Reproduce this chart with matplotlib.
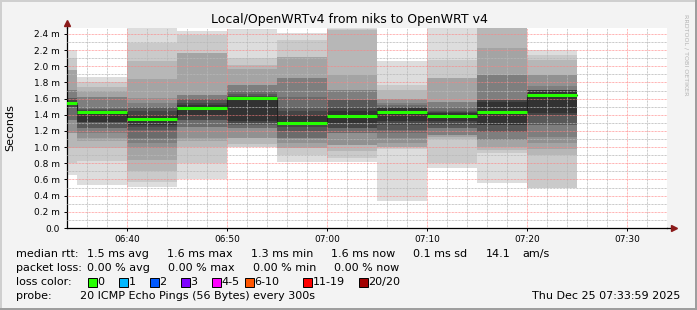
import matplotlib
matplotlib.use('Agg')
import matplotlib.pyplot as plt
from matplotlib.patches import Rectangle

W, H = 697, 310

# 5 minute bins (start time), sorted 20 pings per bin in ms
bin_start = ['06:30', '06:35', '06:40', '06:45', '06:50', '06:55',
             '07:00', '07:05', '07:10', '07:15', '07:20']
p0630 = [0.656, 0.80, 0.985, 1.17, 1.17, 1.34, 1.34, 1.50, 1.50, 1.53, 1.56, 1.58, 1.605, 1.605, 1.71, 1.71, 1.955, 1.955, 2.10, 2.20]
p0635 = [0.53, 0.83, 0.985, 1.08, 1.11, 1.17, 1.234, 1.234, 1.31, 1.315, 1.45, 1.46, 1.47, 1.50, 1.625, 1.625, 1.69, 1.75, 1.81, 1.873]
p0640 = [0.51, 0.57, 0.70, 0.84, 0.985, 1.05, 1.11, 1.21, 1.25, 1.28, 1.40, 1.45, 1.50, 1.50, 1.55, 1.605, 1.84, 2.06, 2.29, 2.50]
p0645 = [0.61, 0.80, 1.00, 1.08, 1.11, 1.25, 1.25, 1.34, 1.34, 1.40, 1.52, 1.55, 1.59, 1.59, 1.646, 1.646, 2.17, 2.17, 2.39, 2.44]
p0650 = [1.00, 1.00, 1.04, 1.11, 1.11, 1.24, 1.24, 1.27, 1.30, 1.32, 1.62, 1.63, 1.66, 1.70, 1.77, 1.77, 1.97, 2.02, 2.10, 2.46]
p0655 = [0.82, 0.90, 0.99, 0.99, 1.05, 1.11, 1.11, 1.20, 1.25, 1.275, 1.40, 1.45, 1.50, 1.62, 1.86, 1.86, 2.12, 2.12, 2.33, 2.41]
p0700 = [0.82, 0.87, 0.95, 1.03, 1.03, 1.17, 1.17, 1.24, 1.24, 1.30, 1.45, 1.50, 1.58, 1.58, 1.71, 1.71, 1.89, 2.45, 2.46, 2.47]
p0705 = [0.34, 0.98, 1.00, 1.00, 1.05, 1.11, 1.17, 1.21, 1.27, 1.32, 1.48, 1.50, 1.50, 1.52, 1.55, 1.60, 1.60, 1.71, 1.77, 2.06]
p0710 = [0.74, 0.80, 1.10, 1.12, 1.15, 1.15, 1.24, 1.24, 1.28, 1.32, 1.42, 1.43, 1.45, 1.50, 1.56, 1.56, 1.86, 1.86, 2.08, 2.47]
p0715 = [0.56, 0.93, 0.96, 1.00, 1.09, 1.09, 1.19, 1.19, 1.27, 1.28, 1.56, 1.58, 1.58, 1.58, 1.89, 1.89, 2.23, 2.47, 2.47, 2.47]
p0720 = [0.49, 0.49, 0.90, 0.98, 1.05, 1.13, 1.27, 1.27, 1.40, 1.42, 1.71, 1.71, 1.71, 1.71, 1.76, 1.89, 1.89, 2.08, 2.14, 2.20]
pings = [p0630, p0635, p0640, p0645, p0650, p0655, p0700, p0705, p0710, p0715, p0720]
median_ms = [1.55, 1.43, 1.345, 1.48, 1.61, 1.30, 1.38, 1.435, 1.38, 1.44, 1.646]

x_ticks = ['06:40', '06:50', '07:00', '07:10', '07:20', '07:30']
y_ticks = [0.0, 0.2, 0.4, 0.6, 0.8, 1.0, 1.2, 1.4, 1.6, 1.8, 2.0, 2.2, 2.4]

loss_labels = ['0', '1', '2', '3', '4-5', '6-10', '11-19', '20/20']
loss_colors = ['#26ff00', '#00b8ff', '#0059ff', '#7e00ff', '#ff00ff', '#ff5500', '#ff0000', '#a10000']


def minutes(s):
    h, m = s.split(':')
    return int(h) * 60 + int(m)


def px(x, y):
    return x / W, 1 - y / H


fig = plt.figure(figsize=(W / 100, H / 100), dpi=100, facecolor='#f3f3f3')
ax = fig.add_axes([67 / W, (H - 228) / H, 600 / W, 200 / H])
ax.set_facecolor('white')

starts = [minutes(s) for s in bin_start]
half = 10
for st, pp in zip(starts, pings):
    for k in range(half):
        g = int(190 / half * (half - (k + 1))) + 50
        col = '#%02x%02x%02x' % (g, g, g)
        ax.bar(st, pp[19 - k] - pp[k], bottom=pp[k], width=5, align='edge',
               color=col, linewidth=0, zorder=1)

# median: black step + green segments
sx = []
sy = []
for st, m in zip(starts, median_ms):
    sx += [st, st + 5]
    sy += [m, m]
ax.plot(sx, sy, color='#202020', lw=0.8, zorder=3)
ax.hlines(median_ms, starts, [s + 5 for s in starts], color='#26ff00', lw=2.2, zorder=4)

ax.set_xlim(minutes('06:34'), minutes('07:34'))
ax.set_ylim(0, 2.474)

ax.set_xticks([minutes(t) for t in x_ticks])
ax.set_xticklabels(x_ticks)
ax.set_xticks(range(minutes('06:36'), minutes('07:34'), 2), minor=True)
ax.set_yticks(y_ticks)
ax.set_yticklabels(['0.0' if v == 0 else '%.1f m' % v for v in y_ticks])
ax.set_yticks([v / 10 for v in range(1, 25, 2)], minor=True)

ax.set_axisbelow(False)
ax.grid(which='minor', color='#b8b8b8', linestyle=(0, (0.72, 0.72)), lw=0.72)
ax.grid(which='major', color='#ff8080', linestyle=(0, (0.72, 0.72)), lw=0.72, alpha=0.8)
ax.tick_params(which='both', labelsize=6.5, colors='black', length=2, width=0.7, pad=3)
ax.tick_params(which='minor', length=0)

for s in ['top', 'right']:
    ax.spines[s].set_visible(False)
for s in ['left', 'bottom']:
    ax.spines[s].set_linewidth(0.9)
ax.plot([1.0, 1.01], [0, 0], color='black', lw=0.9, transform=ax.transAxes, clip_on=False, zorder=5)
ax.plot([0, 0], [1.0, 1.02], color='black', lw=0.9, transform=ax.transAxes, clip_on=False, zorder=5)
ax.plot([1.012], [0], marker='>', ms=4, color='#8b1a1a', transform=ax.transAxes, clip_on=False, zorder=6)
ax.plot([0], [1.025], marker='^', ms=4, color='#8b1a1a', transform=ax.transAxes, clip_on=False, zorder=6)

ax.set_ylabel('Seconds', fontsize=8)
ax.yaxis.set_label_coords((15 - 67) / 600, 0.5)

fig.text(*px(349, 19), 'Local/OpenWRTv4 from niks to OpenWRT v4', fontsize=9,
         ha='center', va='center')
fig.text(*px(686, 55), 'RRDTOOL / TOBI OETIKER', fontsize=4.6, color='#b4b4b4',
         rotation=270, ha='center', va='center')

fs = 8
fig.text(*px(16, 254), 'median rtt:', fontsize=fs, va='center')
row1 = [(87, '1.5 ms avg'), (167, '1.6 ms max'), (251, '1.3 ms min'), (331, '1.6 ms now'),
        (413, '0.1 ms sd'), (486, '14.1'), (522, 'am/s')]
for x, t in row1:
    fig.text(*px(x, 254), t, fontsize=fs, va='center')
fig.text(*px(16, 268), 'packet loss:', fontsize=fs, va='center')
row2 = [(87, '0.00 % avg'), (168, '0.00 % max'), (253, '0.00 % min'), (334, '0.00 % now')]
for x, t in row2:
    fig.text(*px(x, 268), t, fontsize=fs, va='center')
fig.text(*px(16, 282), 'loss color:', fontsize=fs, va='center')
box_x = [88, 119, 150, 181, 212, 245, 303, 359]
for bx, lab, col in zip(box_x, loss_labels, loss_colors):
    fig.add_artist(Rectangle(px(bx, 287), 9 / W, 9 / H, transform=fig.transFigure,
                             facecolor=col, edgecolor='black', lw=0.7))
    fig.text(*px(bx + 9.5, 282), lab, fontsize=fs, va='center')
fig.text(*px(16, 296), 'probe:', fontsize=fs, va='center')
fig.text(*px(80, 296), '20 ICMP Echo Pings (56 Bytes) every 300s', fontsize=fs, va='center')
fig.text(*px(680, 296), 'Thu Dec 25 07:33:59 2025', fontsize=fs, va='center', ha='right')

# frame
fig.add_artist(Rectangle((0, 0), 1, 2 / H, transform=fig.transFigure, color='#9e9e9e', lw=0))
fig.add_artist(Rectangle((1 - 2 / W, 0), 2 / W, 1, transform=fig.transFigure, color='#9e9e9e', lw=0))
fig.add_artist(Rectangle((0, 1 - 2 / H), 1 - 2 / W, 2 / H, transform=fig.transFigure, color='#cfcfcf', lw=0))
fig.add_artist(Rectangle((0, 2 / H), 2 / W, 1 - 4 / H, transform=fig.transFigure, color='#cfcfcf', lw=0))

fig.savefig('out.png', dpi=100, facecolor=fig.get_facecolor())
